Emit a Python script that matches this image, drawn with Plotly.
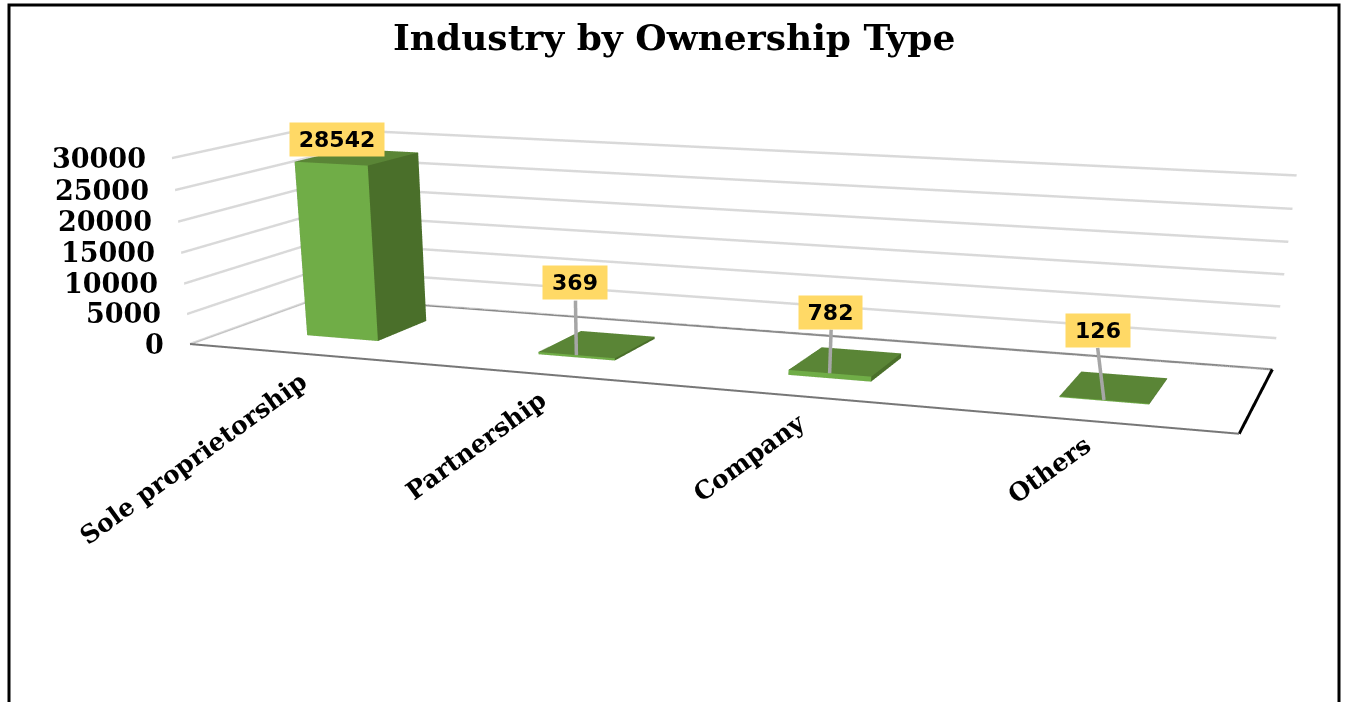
import plotly.graph_objects as go

categories = ["Sole proprietorship", "Partnership", "Company", "Others"]
values = [28542, 369, 782, 126]
z_ticks = [0, 5000, 10000, 15000, 20000, 25000, 30000]
leader_tops = [28542, 9188, 7612, 7851]
leader_lean = [0, 0, 0, -0.038]
label_widths = [94, 64, 63, 64]
label_shifts = [(6, 7), (0, 1), (-1, 0), (0, 0)]
category_shifts = [(-110, -105), (-68, -71), (-55, -61), (-38, -49)]

FW, FH = 1346, 1742
BAR_HALF, Y0, Y1 = 0.1570, 0.2994, 0.7086
XR, YR, ZR = [0, 4], [0, 1], [0, 30000]
FRONT, SIDE, TOP = "#70AD47", "#4A6F2A", "#5A8536"
SERIF = "DejaVu Serif"


def box_trace(i, v):
    cx = i + 0.5
    x0, x1 = cx - BAR_HALF, cx + BAR_HALF
    xs = [x0, x1, x1, x0] * 2
    ys = [Y0, Y0, Y1, Y1] * 2
    zs = [0] * 4 + [v] * 4
    tri = [(0, 1, 5), (0, 5, 4), (1, 2, 6), (1, 6, 5), (2, 3, 7), (2, 7, 6),
           (3, 0, 4), (3, 4, 7), (4, 5, 6), (4, 6, 7), (0, 2, 1), (0, 3, 2)]
    cols = [FRONT] * 2 + [SIDE] * 2 + [SIDE] * 2 + [SIDE] * 2 + [TOP] * 2 + [SIDE] * 2
    return go.Mesh3d(x=xs, y=ys, z=zs,
                     i=[t[0] for t in tri], j=[t[1] for t in tri], k=[t[2] for t in tri],
                     facecolor=cols, flatshading=True, hoverinfo="skip",
                     lighting=dict(ambient=1, diffuse=0, specular=0, roughness=1, fresnel=0))


def edge(a, b, color, width):
    return go.Scatter3d(x=[a[0], b[0]], y=[a[1], b[1]], z=[0, 0], mode="lines",
                        line=dict(color=color, width=width), hoverinfo="skip")


fig = go.Figure()
for i, v in enumerate(values):
    fig.add_trace(box_trace(i, v))
A, B, C, D = (XR[0], YR[0]), (XR[1], YR[0]), (XR[1], YR[1]), (XR[0], YR[1])
fig.add_trace(edge(A, B, "#777777", 4))
fig.add_trace(edge(C, D, "#888888", 4))
fig.add_trace(edge(D, A, "#BFBFBF", 3))
fig.add_trace(edge(B, C, "#000000", 6))
for i, (v, t) in enumerate(zip(values, leader_tops)):
    if t > v and i > 0:
        fig.add_trace(go.Scatter3d(x=[i + 0.5, i + 0.5 + leader_lean[i]], y=[Y0] * 2, z=[v, t], mode="lines",
                                   line=dict(color="#A6A6A6", width=7), hoverinfo="skip"))

ann = []
for t in z_ticks:
    ann.append(dict(x=XR[0], y=YR[0], z=t, text=str(t), showarrow=False, xanchor="right",
                    xshift=-24, font=dict(family=SERIF, size=27, color="#000", weight=700)))
for i, c in enumerate(categories):
    sx, sy = category_shifts[i]
    ann.append(dict(x=i + 0.5, y=YR[0], z=0, text=c, showarrow=False, textangle=-36,
                    xshift=sx, yshift=sy, font=dict(family=SERIF, size=25, color="#000", weight=700)))
for i, v in enumerate(values):
    sx, sy = label_shifts[i]
    ann.append(dict(x=i + 0.5 + leader_lean[i], y=Y0, z=leader_tops[i], text=str(v), showarrow=False,
                    yanchor="bottom", xshift=sx, yshift=sy, width=label_widths[i], height=33,
                    bgcolor="#FFD966", borderpad=0,
                    font=dict(family="DejaVu Sans", size=22, color="#000", weight=700)))

axis = dict(showgrid=False, showticklabels=False, showline=False, zeroline=False, title="",
            showbackground=False, showspikes=False, ticks="")
fig.update_layout(
    width=FW, height=FH, margin=dict(l=0, r=0, t=0, b=0), showlegend=False,
    paper_bgcolor="white",
    scene=dict(domain=dict(x=[0, 1], y=[0, 1]), aspectmode="manual",
               aspectratio=dict(x=1, y=0.2599, z=0.1728),
               camera=dict(eye=dict(x=0.6566, y=-1.9073, z=0.3404),
                           center=dict(x=0.1034, y=-0.4038, z=-0.4307),
                           up=dict(x=-0.0330, y=0.0830, z=1)),
               xaxis=dict(axis, range=XR), yaxis=dict(axis, range=YR),
               zaxis=dict(axis, range=ZR, dtick=5000, showgrid=True, gridcolor="#D9D9D9", gridwidth=5),
               annotations=ann),
    annotations=[dict(text="Industry by Ownership Type", xref="paper", yref="paper",
                      x=674 / FW, y=1 - 37 / FH, showarrow=False, yanchor="middle",
                      font=dict(family=SERIF, size=36, color="#000", weight=700))],
    shapes=[dict(type="rect", xref="paper", yref="paper", x0=9 / FW, x1=1339 / FW,
                 y0=1 - 760 / FH, y1=1 - 5 / FH, line=dict(color="#000", width=3))],
)
fig.write_html("out.html",
               post_script="document.body.style.margin='0';document.body.style.overflow='hidden';",
               config=dict(displayModeBar=False))
